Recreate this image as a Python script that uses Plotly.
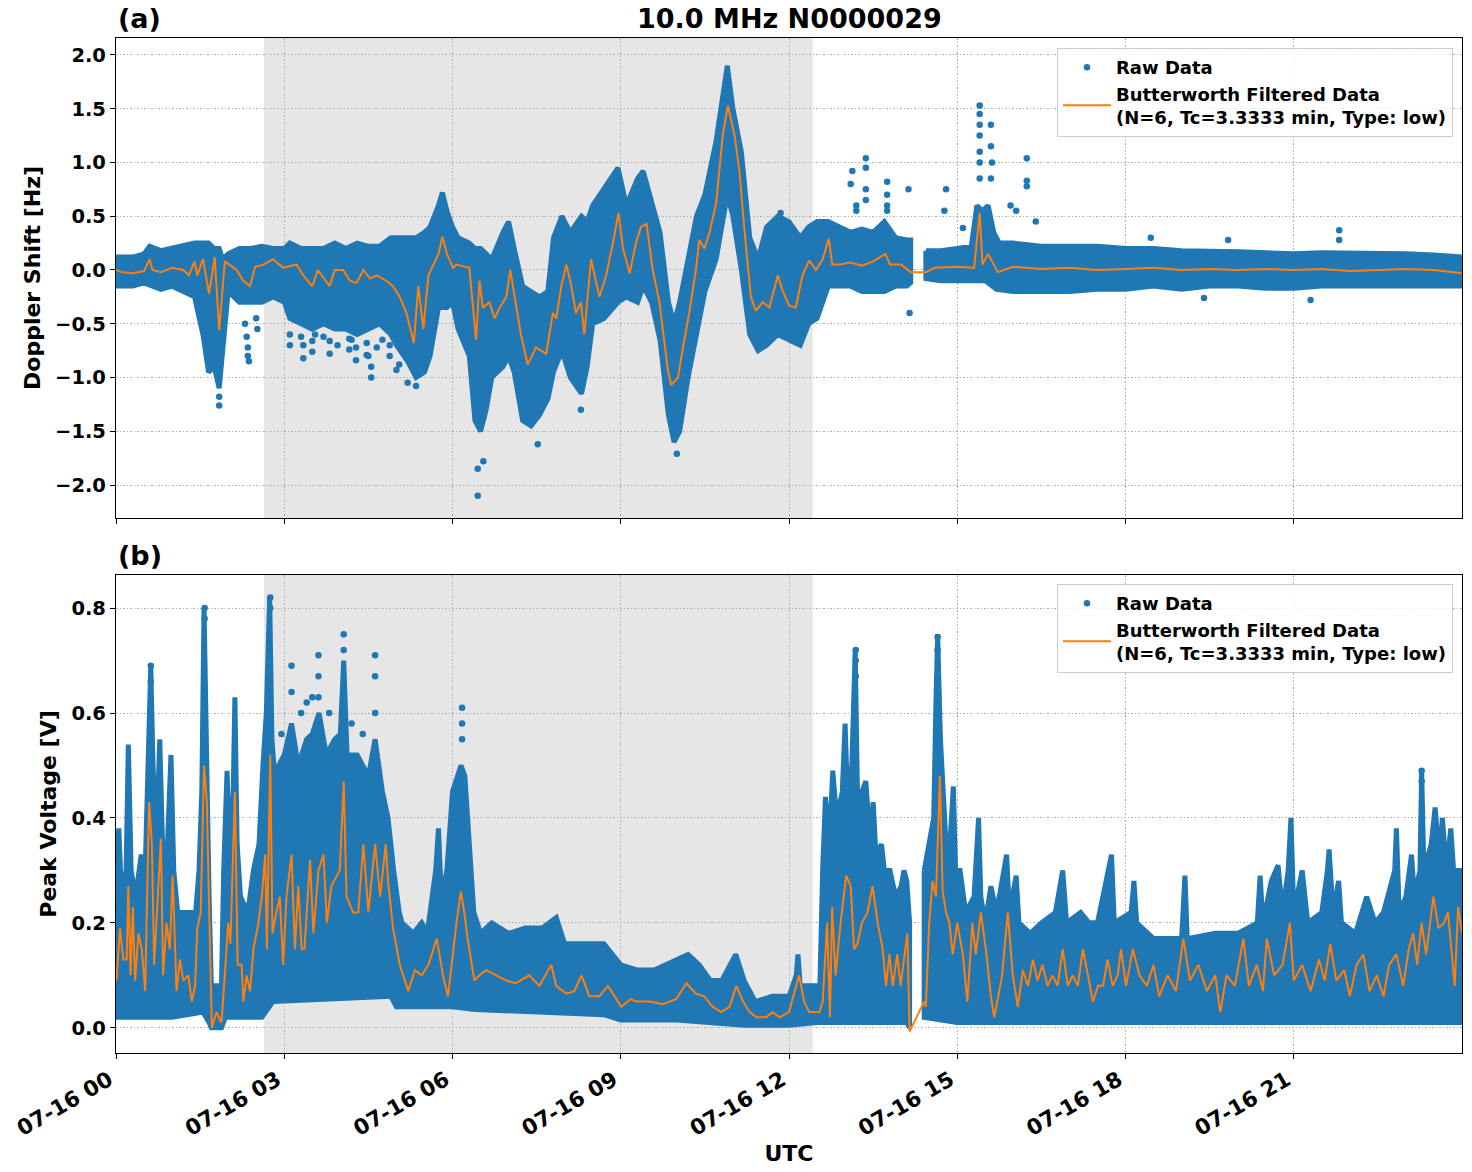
import pandas as pd
import plotly.graph_objects as go
from plotly.subplots import make_subplots

# ---------------- data (hours after 07-16 00:00 UTC) ----------------
night_start_h = 2.64
night_end_h = 12.42

# Panel (a) Doppler shift: dense raw-data band (upper and lower edges)
a_top_t = [0.0, 0.3, 0.5, 0.6, 0.8, 1.0, 1.2, 1.4, 1.55, 1.65, 1.75, 1.84, 1.9, 2.0, 2.2, 2.4, 2.6, 2.8,
           3.0, 3.1, 3.3, 3.5, 3.7, 3.9, 4.1, 4.3, 4.5, 4.7, 4.9, 5.0, 5.2, 5.35, 5.5, 5.6, 5.75, 5.82, 5.9, 6.0,
           6.1, 6.3, 6.4, 6.5, 6.6, 6.7, 6.9, 7.0, 7.1, 7.25, 7.4, 7.55, 7.7, 7.8, 7.95, 8.1, 8.3, 8.4, 8.5,
           8.7, 8.95, 9.1, 9.3, 9.4, 9.55, 9.7, 9.85, 9.95, 10.05, 10.2, 10.35, 10.5, 10.7, 10.9, 11.0, 11.15,
           11.3, 11.45, 11.6, 11.8, 12.0, 12.2, 12.35, 12.5, 12.7, 12.9, 13.1, 13.3, 13.5, 13.7, 13.9, 14.1,
           14.17, 14.44, 14.7, 15.0, 15.25, 15.35, 15.45, 15.55, 15.65, 15.75, 16.0, 16.5, 17.0, 17.5, 18.0,
           18.5, 19.0, 19.5, 20.0, 20.5, 21.0, 21.5, 22.0, 22.5, 23.0, 23.5, 24.0]
a_top_v = [0.12, 0.12, 0.15, 0.22, 0.18, 0.2, 0.22, 0.25, 0.25, 0.25, 0.2, 0.2, 0.1, 0.15, 0.2, 0.2, 0.22, 0.2,
           0.2, 0.25, 0.2, 0.2, 0.2, 0.25, 0.2, 0.25, 0.22, 0.22, 0.3, 0.3, 0.3, 0.3, 0.35, 0.4, 0.6, 0.72, 0.55, 0.4,
           0.3, 0.25, 0.2, 0.2, 0.15, 0.1, 0.35, 0.45, 0.2, -0.15, -0.2, -0.25, -0.2, 0.3, 0.5, 0.35, 0.5, 0.45, 0.6,
           0.75, 0.95, 0.6, 0.85, 0.92, 0.65, 0.35, -0.3, -0.5, -0.3, 0.1, 0.5, 0.7, 1.2, 1.9, 1.5, 1.1,
           0.3, 0.1, 0.4, 0.5, 0.45, 0.3, 0.4, 0.45, 0.45, 0.4, 0.35, 0.38, 0.35, 0.45, 0.3, 0.28,
           0.28, 0.18, 0.18, 0.2, 0.22, 0.6, 0.55, 0.6, 0.35, 0.25, 0.25, 0.22, 0.22, 0.22, 0.2,
           0.2, 0.18, 0.18, 0.17, 0.16, 0.15, 0.16, 0.16, 0.15, 0.15, 0.14, 0.12]
a_bot_t = [0.0, 0.3, 0.5, 0.8, 1.0, 1.2, 1.4, 1.55, 1.65, 1.75, 1.84, 1.9, 2.0, 2.2, 2.6, 2.8,
           3.0, 3.1, 3.3, 3.5, 3.7, 3.9, 4.1, 4.3, 4.5, 4.7, 4.9, 5.0, 5.2, 5.35, 5.5, 5.6, 5.75, 5.9, 6.0,
           6.1, 6.3, 6.4, 6.5, 6.6, 6.7, 6.9, 7.0, 7.1, 7.25, 7.4, 7.55, 7.7, 7.8, 7.95, 8.1, 8.3, 8.4, 8.5,
           8.7, 8.95, 9.1, 9.3, 9.4, 9.55, 9.7, 9.85, 9.95, 10.05, 10.2, 10.35, 10.5, 10.7, 10.9, 11.0, 11.15,
           11.3, 11.45, 11.6, 11.8, 12.0, 12.2, 12.35, 12.5, 12.7, 12.9, 13.1, 13.3, 13.5, 13.7, 13.9, 14.1,
           14.17, 14.44, 14.7, 15.0, 15.5, 15.7, 16.0, 16.5, 17.0, 17.5, 18.0, 18.5, 19.0, 19.5,
           20.0, 20.5, 21.0, 21.5, 22.0, 22.5, 23.0, 23.5, 24.0]
a_bot_v = [-0.15, -0.15, -0.12, -0.18, -0.15, -0.2, -0.25, -0.6, -0.95, -0.9, -1.1, -0.85, -0.2, -0.3, -0.3, -0.25,
           -0.3, -0.45, -0.5, -0.55, -0.5, -0.55, -0.55, -0.6, -0.55, -0.5, -0.6, -0.7, -0.85, -1.0, -0.95, -0.8, -0.35, -0.35, -0.3,
           -0.55, -0.8, -1.4, -1.5, -1.3, -1.0, -0.9, -0.8, -0.95, -1.4, -1.45, -1.35, -1.2, -0.95, -0.75, -1.0, -1.15, -0.9, -0.5,
           -0.45, -0.3, -0.25, -0.3, -0.15, -0.3, -0.65, -1.35, -1.6, -1.5, -1.0, -0.6, -0.2, 0.1, 0.7, 0.5, 0.0,
           -0.6, -0.75, -0.7, -0.6, -0.65, -0.7, -0.5, -0.45, -0.15, -0.15, -0.15, -0.2, -0.2, -0.2, -0.15, -0.15,
           -0.12, -0.08, -0.1, -0.1, -0.1, -0.18, -0.2, -0.2, -0.2, -0.18, -0.18, -0.15, -0.18, -0.15,
           -0.15, -0.17, -0.17, -0.15, -0.15, -0.15, -0.15, -0.15, -0.15]
a_gap = (14.17, 14.44)

# Panel (a) isolated raw points
a_out_t = [1.84, 1.84, 1.82, 2.3, 2.33, 2.35, 2.35, 2.37, 2.5, 2.52,
           3.1, 3.1, 3.34, 3.34, 3.3, 3.5, 3.5, 3.55, 3.81, 3.81, 3.7, 3.95, 4.16, 4.16, 4.28, 4.28, 4.2,
           4.47, 4.47, 4.55, 4.55, 4.5, 4.65, 4.75, 4.88, 4.88, 5.0, 5.05, 5.2, 5.35,
           6.45, 6.45, 6.55, 7.52, 8.29, 10.0, 10.99, 11.85, 11.55, 13.1, 13.13, 13.2, 13.2, 13.37, 13.37,
           13.37, 13.37, 13.75, 13.75, 13.75, 13.75, 14.13, 14.15, 14.77, 14.8, 15.1, 15.4, 15.4, 15.4, 15.4,
           15.4, 15.4, 15.4, 15.6, 15.6, 15.62, 15.6, 15.95, 16.05, 16.24, 16.24, 16.24, 16.4, 18.45, 19.4,
           19.83, 21.3, 21.81, 21.81]
a_out_v = [-1.26, -1.18, -1.0, -0.5, -0.62, -0.72, -0.8, -0.85, -0.45, -0.55,
           -0.7, -0.6, -0.82, -0.7, -0.62, -0.76, -0.66, -0.6, -0.78, -0.66, -0.62, -0.7, -0.74, -0.64, -0.84, -0.72,
           -0.65, -0.79, -0.68, -1.0, -0.9, -0.8, -0.72, -0.65, -0.8, -0.7, -0.93, -0.88, -1.05, -1.08,
           -1.85, -2.1, -1.78, -1.62, -1.3, -1.71, 0.68, 0.53, -0.68, 0.8, 0.92, 0.6, 0.55, 1.04, 0.95,
           0.75, 0.65, 0.82, 0.7, 0.6, 0.55, 0.75, -0.4, 0.55, 0.75, 0.39, 1.53, 1.45, 1.35, 1.25,
           1.1, 1.0, 0.85, 1.35, 1.15, 1.0, 0.85, 0.6, 0.55, 1.04, 0.83, 0.78, 0.45, 0.3, -0.26,
           0.28, -0.28, 0.37, 0.28]

# Panel (a) Butterworth filtered series
a_filt_t = [0.0, 0.1, 0.3, 0.5, 0.6, 0.65, 0.8, 1.0, 1.2, 1.3, 1.4, 1.45, 1.55, 1.62, 1.66, 1.76, 1.84, 1.94, 2.15, 2.27,
            2.39, 2.48, 2.63, 2.8, 2.98, 3.22, 3.34, 3.5, 3.6, 3.81, 3.9, 4.05, 4.17, 4.29, 4.41, 4.53, 4.65, 4.82,
            4.94, 5.06, 5.18, 5.31, 5.39, 5.48, 5.57, 5.66, 5.75, 5.82, 5.9, 6.01, 6.07, 6.3, 6.42, 6.48, 6.54,
            6.66, 6.75, 6.84, 6.96, 7.03, 7.13, 7.22, 7.34, 7.49, 7.67, 7.79, 7.85, 7.94, 8.03, 8.12, 8.2, 8.29,
            8.35, 8.47, 8.62, 8.74, 8.86, 8.96, 9.04, 9.16, 9.27, 9.36, 9.46, 9.57, 9.69, 9.84, 9.9, 10.02, 10.1,
            10.22, 10.34, 10.4, 10.49, 10.58, 10.7, 10.82, 10.91, 11.03, 11.12, 11.2, 11.32, 11.41, 11.53, 11.65,
            11.8, 11.89, 12.0, 12.12, 12.24, 12.36, 12.48, 12.6, 12.71, 12.77, 12.9, 13.1, 13.3, 13.5, 13.72,
            13.8, 14.0, 14.17, 14.44, 14.6, 15.0, 15.3, 15.4, 15.45, 15.55, 15.72, 16.0, 16.5, 17.0, 17.5, 18.0,
            18.5, 19.0, 19.5, 20.0, 20.5, 21.0, 21.5, 22.0, 22.5, 23.0, 23.5, 24.0]
a_filt_v = [0.0, -0.02, -0.03, -0.01, 0.1, 0.0, -0.02, 0.02, 0.0, -0.05, 0.08, -0.05, 0.1, -0.1, -0.22, 0.12, -0.56, 0.08, 0.0, -0.1,
            -0.15, 0.03, 0.05, 0.1, 0.02, 0.05, -0.05, -0.15, 0.0, -0.15, 0.0, 0.0, -0.1, -0.12, 0.0, -0.08, -0.05, -0.1,
            -0.15, -0.25, -0.4, -0.68, -0.15, -0.55, -0.05, 0.05, 0.15, 0.31, 0.15, 0.02, 0.05, 0.02, -0.65, -0.1, -0.35,
            -0.3, -0.45, -0.35, -0.25, 0.0, -0.3, -0.6, -0.88, -0.72, -0.78, -0.4, -0.45, -0.15, 0.05, -0.15, -0.4, -0.3,
            -0.6, 0.1, -0.25, -0.05, 0.25, 0.53, 0.2, -0.03, 0.25, 0.4, 0.43, 0.0, -0.3, -0.93, -1.07, -1.0, -0.75,
            -0.4, 0.0, 0.28, 0.2, 0.34, 0.62, 1.26, 1.53, 1.25, 0.9, 0.4, -0.25, -0.38, -0.3, -0.35,
            -0.05, -0.2, -0.33, -0.35, -0.05, 0.09, 0.0, 0.1, 0.29, 0.05, 0.05, 0.07, 0.04, 0.08, 0.15,
            0.05, 0.05, -0.02, -0.02, 0.02, 0.03, 0.02, 0.53, 0.05, 0.15, -0.02, 0.03, 0.01, 0.02, 0.0, 0.01,
            0.02, 0.0, 0.01, 0.0, 0.01, 0.0, 0.01, -0.01, 0.0, 0.01, 0.0, -0.03]

# Panel (b) Peak voltage: dense raw-data band (upper and lower edges)
b_top_t = [0.0, 0.05, 0.1, 0.18, 0.22, 0.27, 0.35, 0.45, 0.52, 0.58, 0.62, 0.66, 0.72, 0.78, 0.83, 0.9, 0.98, 1.03,
           1.1, 1.3, 1.42, 1.48, 1.53, 1.57, 1.61, 1.66, 1.7, 1.88, 1.92, 1.98, 2.04, 2.09, 2.12, 2.16, 2.22,
           2.35, 2.45, 2.55, 2.62, 2.68, 2.74, 2.78, 2.85, 2.9, 3.0, 3.13, 3.25, 3.4, 3.5, 3.62, 3.75, 3.9, 4.0,
           4.06, 4.12, 4.3, 4.5, 4.62, 4.75, 4.85, 4.95, 5.05, 5.1, 5.3, 5.45, 5.55, 5.7, 5.75, 5.8, 5.9, 6.0,
           6.15, 6.22, 6.3, 6.38, 6.5, 6.7, 7.0, 7.3, 7.6, 7.85, 8.0, 8.3, 8.7, 9.0, 9.3, 9.6, 10.0, 10.2, 10.4,
           10.6, 10.8, 11.05, 11.2, 11.4, 11.7, 12.0, 12.13, 12.16, 12.2, 12.55, 12.6, 12.65, 12.72, 12.78, 12.85,
           12.95, 13.0, 13.05, 13.12, 13.18, 13.22, 13.3, 13.37, 13.45, 13.5, 13.55, 13.65, 13.7, 13.8, 13.9, 14.0,
           14.05, 14.1, 14.15, 14.41, 14.5, 14.58, 14.62, 14.65, 14.7, 14.75, 14.8, 14.87, 14.93, 14.97, 15.05,
           15.15, 15.3, 15.38, 15.42, 15.5, 15.6, 15.7, 15.88, 15.93, 16.05, 16.1, 16.3, 16.5, 16.75, 16.88,
           16.95, 17.2, 17.35, 17.5, 17.75, 17.8, 18.1, 18.15, 18.2, 18.5, 19.0, 19.06, 19.1, 19.6, 20.0, 20.35,
           20.4, 20.45, 20.6, 20.72, 20.8, 20.9, 20.95, 21.0, 21.15, 21.25, 21.5, 21.6, 21.63, 21.7, 21.8, 21.85,
           22.1, 22.3, 22.45, 22.6, 22.8, 22.83, 22.88, 23.0, 23.1, 23.15, 23.25, 23.28, 23.32, 23.45, 23.52,
           23.6, 23.65, 23.72, 23.8, 23.85, 24.0]
b_top_v = [0.3, 0.38, 0.25, 0.3, 0.54, 0.3, 0.25, 0.33, 0.3, 0.55, 0.69, 0.5, 0.35, 0.55, 0.35, 0.3, 0.52, 0.3,
           0.22, 0.22, 0.22, 0.3, 0.45, 0.8, 0.5, 0.25, 0.08, 0.08, 0.3, 0.49, 0.3, 0.45, 0.63, 0.35, 0.25,
           0.22, 0.3, 0.35, 0.5, 0.6, 0.82, 0.55, 0.45, 0.5, 0.52, 0.58, 0.5, 0.55, 0.56, 0.6, 0.52, 0.55, 0.56,
           0.7, 0.52, 0.52, 0.48, 0.55, 0.45, 0.4, 0.3, 0.22, 0.2, 0.18, 0.2, 0.18, 0.3, 0.38, 0.25, 0.3, 0.45,
           0.5, 0.48, 0.35, 0.22, 0.18, 0.2, 0.18, 0.19, 0.19, 0.21, 0.16, 0.16, 0.16, 0.12, 0.11, 0.11, 0.13, 0.14, 0.12,
           0.09, 0.09, 0.14, 0.09, 0.05, 0.06, 0.06, 0.1, 0.14, 0.08, 0.08, 0.3, 0.44, 0.35, 0.49, 0.4,
           0.45, 0.58, 0.42, 0.5, 0.72, 0.45, 0.45, 0.47, 0.35, 0.43, 0.33, 0.35, 0.3, 0.3, 0.25, 0.27,
           0.3, 0.28, 0.2, 0.3, 0.35, 0.4, 0.62, 0.75, 0.55, 0.45, 0.35, 0.35, 0.46, 0.3, 0.3,
           0.22, 0.25, 0.4, 0.25, 0.2, 0.27, 0.22, 0.33, 0.22, 0.29, 0.2, 0.18, 0.2, 0.22, 0.3,
           0.2, 0.22, 0.2, 0.2, 0.33, 0.2, 0.22, 0.28, 0.2, 0.17, 0.17, 0.29, 0.17, 0.18, 0.18, 0.2,
           0.29, 0.2, 0.28, 0.31, 0.22, 0.3, 0.4, 0.22, 0.3, 0.2, 0.22, 0.3, 0.34, 0.22, 0.28, 0.2,
           0.18, 0.25, 0.2, 0.22, 0.3, 0.38, 0.22, 0.25, 0.33, 0.25, 0.3, 0.49, 0.3, 0.35, 0.42,
           0.32, 0.4, 0.3, 0.38, 0.3, 0.3]
b_bot_t = [0.0, 0.6, 1.0, 1.55, 1.66, 1.7, 1.88, 1.95, 2.6, 2.8, 4.9, 5.0, 6.0, 6.4, 8.7, 9.0, 10.0, 10.6,
           11.2, 12.0, 12.5, 14.1, 14.15, 14.41, 15.0, 24.0]
b_bot_v = [0.02, 0.02, 0.02, 0.03, 0.01, 0.0, 0.0, 0.02, 0.02, 0.05, 0.06, 0.04, 0.04, 0.035, 0.025, 0.015, 0.015, 0.01,
           0.005, 0.005, 0.01, 0.01, 0.0, 0.02, 0.01, 0.01]
b_gap = (14.15, 14.41)

# Panel (b) isolated raw points
b_out_t = [0.62, 0.62, 1.58, 1.58, 2.75, 2.75, 2.95, 3.13, 3.13, 3.3, 3.4, 3.5, 3.61, 3.61, 3.61,
           3.8, 4.06, 4.06, 4.2, 4.4, 4.62, 4.62, 4.62, 6.17, 6.17, 6.17, 13.19, 13.19, 13.19, 14.65, 14.65,
           23.28, 23.28]
b_out_v = [0.69, 0.66, 0.8, 0.78, 0.82, 0.8, 0.56, 0.69, 0.64, 0.6, 0.62, 0.63, 0.71, 0.67, 0.63,
           0.6, 0.75, 0.72, 0.58, 0.56, 0.71, 0.67, 0.6, 0.61, 0.58, 0.55, 0.72, 0.7, 0.67, 0.745, 0.72,
           0.49, 0.47]

# Panel (b) Butterworth filtered series
b_filt_t = [0.01, 0.07, 0.13, 0.19, 0.22, 0.26, 0.3, 0.34, 0.4, 0.46, 0.52, 0.59, 0.64, 0.68, 0.72, 0.8, 0.84, 0.9, 0.96, 1.01,
            1.08, 1.14, 1.2, 1.29, 1.35, 1.41, 1.45, 1.51, 1.57, 1.62, 1.68, 1.71, 1.79, 1.88, 1.94, 2.0, 2.04, 2.12,
            2.17, 2.24, 2.27, 2.33, 2.39, 2.45, 2.54, 2.6, 2.66, 2.69, 2.75, 2.79, 2.86, 2.92, 2.98, 3.04, 3.13, 3.19,
            3.25, 3.31, 3.36, 3.46, 3.52, 3.61, 3.7, 3.76, 3.84, 3.99, 4.06, 4.11, 4.23, 4.32, 4.41, 4.5, 4.62, 4.71,
            4.81, 4.85, 4.94, 5.06, 5.21, 5.33, 5.45, 5.57, 5.72, 5.83, 5.92, 6.01, 6.07, 6.15, 6.21, 6.27, 6.39,
            6.48, 6.6, 6.78, 6.96, 7.13, 7.37, 7.55, 7.76, 7.85, 8.03, 8.17, 8.3, 8.44, 8.62, 8.77, 8.89, 9.01,
            9.18, 9.27, 9.51, 9.75, 9.99, 10.17, 10.34, 10.49, 10.64, 10.79, 10.94, 11.06, 11.18, 11.3, 11.42,
            11.59, 11.71, 11.83, 12.0, 12.18, 12.27, 12.36, 12.54, 12.6, 12.68, 12.73, 12.77, 12.83, 12.92, 13.02,
            13.1, 13.16, 13.22, 13.3, 13.4, 13.49, 13.58, 13.67, 13.73, 13.79, 13.85, 13.93, 13.99, 14.05, 14.11,
            14.15, 14.41, 14.44, 14.5, 14.56, 14.62, 14.69, 14.74, 14.8, 14.86, 14.92, 15.0, 15.1, 15.18, 15.27,
            15.33, 15.42, 15.51, 15.6, 15.66, 15.8, 15.9, 15.99, 16.08, 16.17, 16.26, 16.35, 16.43, 16.52, 16.61,
            16.7, 16.79, 16.88, 16.97, 17.06, 17.15, 17.24, 17.33, 17.42, 17.51, 17.6, 17.68, 17.77, 17.86, 17.92,
            18.01, 18.13, 18.25, 18.38, 18.5, 18.6, 18.75, 18.9, 19.03, 19.15, 19.3, 19.45, 19.6, 19.69, 19.8,
            19.95, 20.1, 20.2, 20.34, 20.45, 20.52, 20.65, 20.8, 20.93, 21.0, 21.15, 21.3, 21.45, 21.55, 21.65,
            21.76, 21.9, 22.0, 22.12, 22.24, 22.35, 22.48, 22.6, 22.7, 22.83, 22.95, 23.05, 23.13, 23.2, 23.28,
            23.36, 23.49, 23.58, 23.68, 23.75, 23.87, 23.93, 24.0]
b_filt_v = [0.09, 0.19, 0.13, 0.13, 0.27, 0.1, 0.23, 0.09, 0.18, 0.15, 0.07, 0.43, 0.35, 0.12, 0.2, 0.36, 0.1, 0.2, 0.15, 0.29,
            0.07, 0.13, 0.09, 0.1, 0.05, 0.08, 0.19, 0.22, 0.5, 0.43, 0.13, 0.0, 0.03, 0.01, 0.1, 0.2, 0.16, 0.45,
            0.12, 0.12, 0.05, 0.1, 0.07, 0.15, 0.2, 0.25, 0.33, 0.15, 0.52, 0.18, 0.22, 0.25, 0.12, 0.25, 0.33, 0.15,
            0.27, 0.15, 0.15, 0.32, 0.18, 0.3, 0.33, 0.2, 0.27, 0.3, 0.47, 0.25, 0.22, 0.22, 0.35, 0.22, 0.35, 0.25,
            0.35, 0.28, 0.19, 0.12, 0.07, 0.11, 0.1, 0.12, 0.17, 0.1, 0.06, 0.15, 0.2, 0.26, 0.22, 0.17, 0.09,
            0.1, 0.11, 0.1, 0.09, 0.085, 0.1, 0.08, 0.12, 0.08, 0.065, 0.07, 0.1, 0.06, 0.06, 0.08, 0.06, 0.04,
            0.055, 0.05, 0.05, 0.045, 0.055, 0.085, 0.065, 0.06, 0.04, 0.03, 0.04, 0.08, 0.05, 0.03, 0.02,
            0.02, 0.03, 0.02, 0.03, 0.1, 0.05, 0.03, 0.03, 0.05, 0.2, 0.02, 0.23, 0.1, 0.2, 0.29,
            0.27, 0.15, 0.16, 0.2, 0.22, 0.27, 0.2, 0.15, 0.08, 0.14, 0.08, 0.14, 0.08, 0.13, 0.18,
            -0.007, 0.05, 0.04, 0.2, 0.28, 0.25, 0.48, 0.26, 0.22, 0.2, 0.14, 0.2, 0.14, 0.05, 0.2,
            0.14, 0.22, 0.15, 0.06, 0.02, 0.1, 0.22, 0.1, 0.04, 0.11, 0.08, 0.13, 0.09, 0.12, 0.08,
            0.1, 0.08, 0.15, 0.08, 0.1, 0.08, 0.15, 0.1, 0.05, 0.08, 0.08, 0.13, 0.08, 0.1, 0.15,
            0.08, 0.15, 0.1, 0.08, 0.12, 0.06, 0.1, 0.07, 0.17, 0.09, 0.12, 0.07, 0.1, 0.03, 0.1,
            0.08, 0.17, 0.08, 0.12, 0.07, 0.17, 0.1, 0.12, 0.2, 0.09, 0.12, 0.07, 0.13, 0.09, 0.16,
            0.09, 0.11, 0.06, 0.12, 0.14, 0.07, 0.1, 0.06, 0.12, 0.14, 0.08, 0.15, 0.18, 0.12, 0.2,
            0.14, 0.25, 0.19, 0.2, 0.22, 0.08, 0.23, 0.18]

a_yticks = [-2.0, -1.5, -1.0, -0.5, 0.0, 0.5, 1.0, 1.5, 2.0]
b_yticks = [0.0, 0.2, 0.4, 0.6, 0.8]
x_tick_hours = [0, 3, 6, 9, 12, 15, 18, 21]

title_text = "10.0 MHz N0000029"
raw_name = "Raw Data"
filt_name = "Butterworth Filtered Data<br>(N=6, Tc=3.3333 min, Type: low)"

# ---------------- helpers ----------------
base = pd.Timestamp("2024-07-16 00:00:00")


def to_time(hours):
    return [None if h is None else base + pd.Timedelta(hours=h) for h in hours]


def band_polygon(top_t, top_v, bot_t, bot_v, gap):
    xs, ys = [], []
    for k, inside in enumerate([lambda h: h <= gap[0], lambda h: h >= gap[1]]):
        tt = [(t, v) for t, v in zip(top_t, top_v) if inside(t)]
        bb = [(t, v) for t, v in zip(bot_t, bot_v) if inside(t)]
        if k:
            xs.append(None)
            ys.append(None)
        path = tt + bb[::-1] + [tt[0]]
        xs += [p[0] for p in path]
        ys += [p[1] for p in path]
    return to_time(xs), ys


BLUE = "#1f77b4"
ORANGE = "#ff7f0e"
FONT = "DejaVu Sans"

fig = make_subplots(rows=2, cols=1, shared_xaxes=True, vertical_spacing=0.0)

panels = [
    (1, a_top_t, a_top_v, a_bot_t, a_bot_v, a_gap, a_out_t, a_out_v, a_filt_t, a_filt_v, "legend"),
    (2, b_top_t, b_top_v, b_bot_t, b_bot_v, b_gap, b_out_t, b_out_v, b_filt_t, b_filt_v, "legend2"),
]
for row, tt, tv, bt, bv, gap, ot, ov, ft, fv, leg in panels:
    px, py = band_polygon(tt, tv, bt, bv, gap)
    fig.add_trace(go.Scatter(x=px, y=py, mode="lines", fill="toself", fillcolor=BLUE,
                             line=dict(color=BLUE, width=5), showlegend=False, hoverinfo="skip",
                             legend=leg), row=row, col=1)
    fig.add_trace(go.Scatter(x=to_time(ot), y=ov, mode="markers", name=raw_name,
                             marker=dict(color=BLUE, size=6.5), legend=leg), row=row, col=1)
    fig.add_trace(go.Scatter(x=to_time(ft), y=fv, mode="lines", name=filt_name,
                             line=dict(color=ORANGE, width=2), legend=leg), row=row, col=1)

# night shading
for yref in ["y domain", "y2 domain"]:
    fig.add_shape(type="rect", xref="x", yref=yref,
                  x0=base + pd.Timedelta(hours=night_start_h), x1=base + pd.Timedelta(hours=night_end_h),
                  y0=0, y1=1, fillcolor="#e6e6e6", line=dict(width=0), layer="below")

TICKFONT = dict(size=19.5, family=FONT, color="black", weight="bold")
XTICKFONT = dict(size=21.5, family=FONT, color="black", weight="bold")
LABELFONT = dict(size=22, family=FONT, color="black", weight="bold")
axis_common = dict(showline=True, mirror=True, linecolor="black", linewidth=1.3,
                   ticks="outside", ticklen=5, tickwidth=1.2, tickcolor="black",
                   showgrid=True, gridcolor="#b0b0b0", griddash="1.5px,2px", gridwidth=1,
                   zeroline=False, tickfont=TICKFONT)

xr = [base, base + pd.Timedelta(hours=24) - pd.Timedelta(seconds=1)]
xtv = to_time(x_tick_hours)
fig.update_xaxes(**axis_common, type="date", range=xr, tickvals=xtv, tickformat="%m-%d %H")
fig.update_xaxes(showticklabels=False, row=1, col=1)
fig.update_xaxes(tickangle=-30, tickfont=XTICKFONT, ticklabelshift=-7, row=2, col=1,
                 title=dict(text="UTC", font=LABELFONT, standoff=2))

fig.update_yaxes(**axis_common)
fig.update_yaxes(row=1, col=1, range=[-2.307, 2.158], tickvals=a_yticks, tickformat=".1f",
                 title=dict(text="Doppler Shift [Hz]", font=LABELFONT, standoff=8))
fig.update_yaxes(row=2, col=1, range=[-0.048, 0.863], tickvals=b_yticks, tickformat=".1f",
                 title=dict(text="Peak Voltage [V]", font=LABELFONT, standoff=8))

PLOT_H = 1015.0
LEGFONT = dict(size=18, family=FONT, color="black", weight="bold")
fig.update_layout(
    width=1472, height=1172,
    margin=dict(l=116, r=10, t=38, b=119, autoexpand=False),
    paper_bgcolor="white", plot_bgcolor="white",
    font=dict(family=FONT, color="black"),
    yaxis=dict(domain=[1 - 480 / PLOT_H, 1]),
    yaxis2=dict(domain=[0, 478 / PLOT_H]),
    legend=dict(x=0.9933, y=1 - 10 / PLOT_H, xanchor="right", yanchor="top",
                bgcolor="rgba(255,255,255,0.8)", bordercolor="#cccccc", borderwidth=1,
                font=LEGFONT, tracegroupgap=2, itemwidth=48),
    legend2=dict(x=0.9933, y=1 - 546 / PLOT_H, xanchor="right", yanchor="top",
                 bgcolor="rgba(255,255,255,0.8)", bordercolor="#cccccc", borderwidth=1,
                 font=LEGFONT, tracegroupgap=2, itemwidth=48),
    showlegend=True,
)

TITLEFONT = dict(size=27, family=FONT, color="black", weight="bold")
fig.add_annotation(text=title_text, xref="paper", yref="paper", x=0.5, y=1.0, yshift=2,
                   xanchor="center", yanchor="bottom", showarrow=False, font=TITLEFONT)
fig.add_annotation(text="(a)", xref="paper", yref="paper", x=0.0, y=1.0, yshift=2,
                   xanchor="left", yanchor="bottom", showarrow=False, font=TITLEFONT)
fig.add_annotation(text="(b)", xref="paper", yref="paper", x=0.0, y=478 / PLOT_H, yshift=2,
                   xanchor="left", yanchor="bottom", showarrow=False, font=TITLEFONT)

fig.write_html("out.html")
